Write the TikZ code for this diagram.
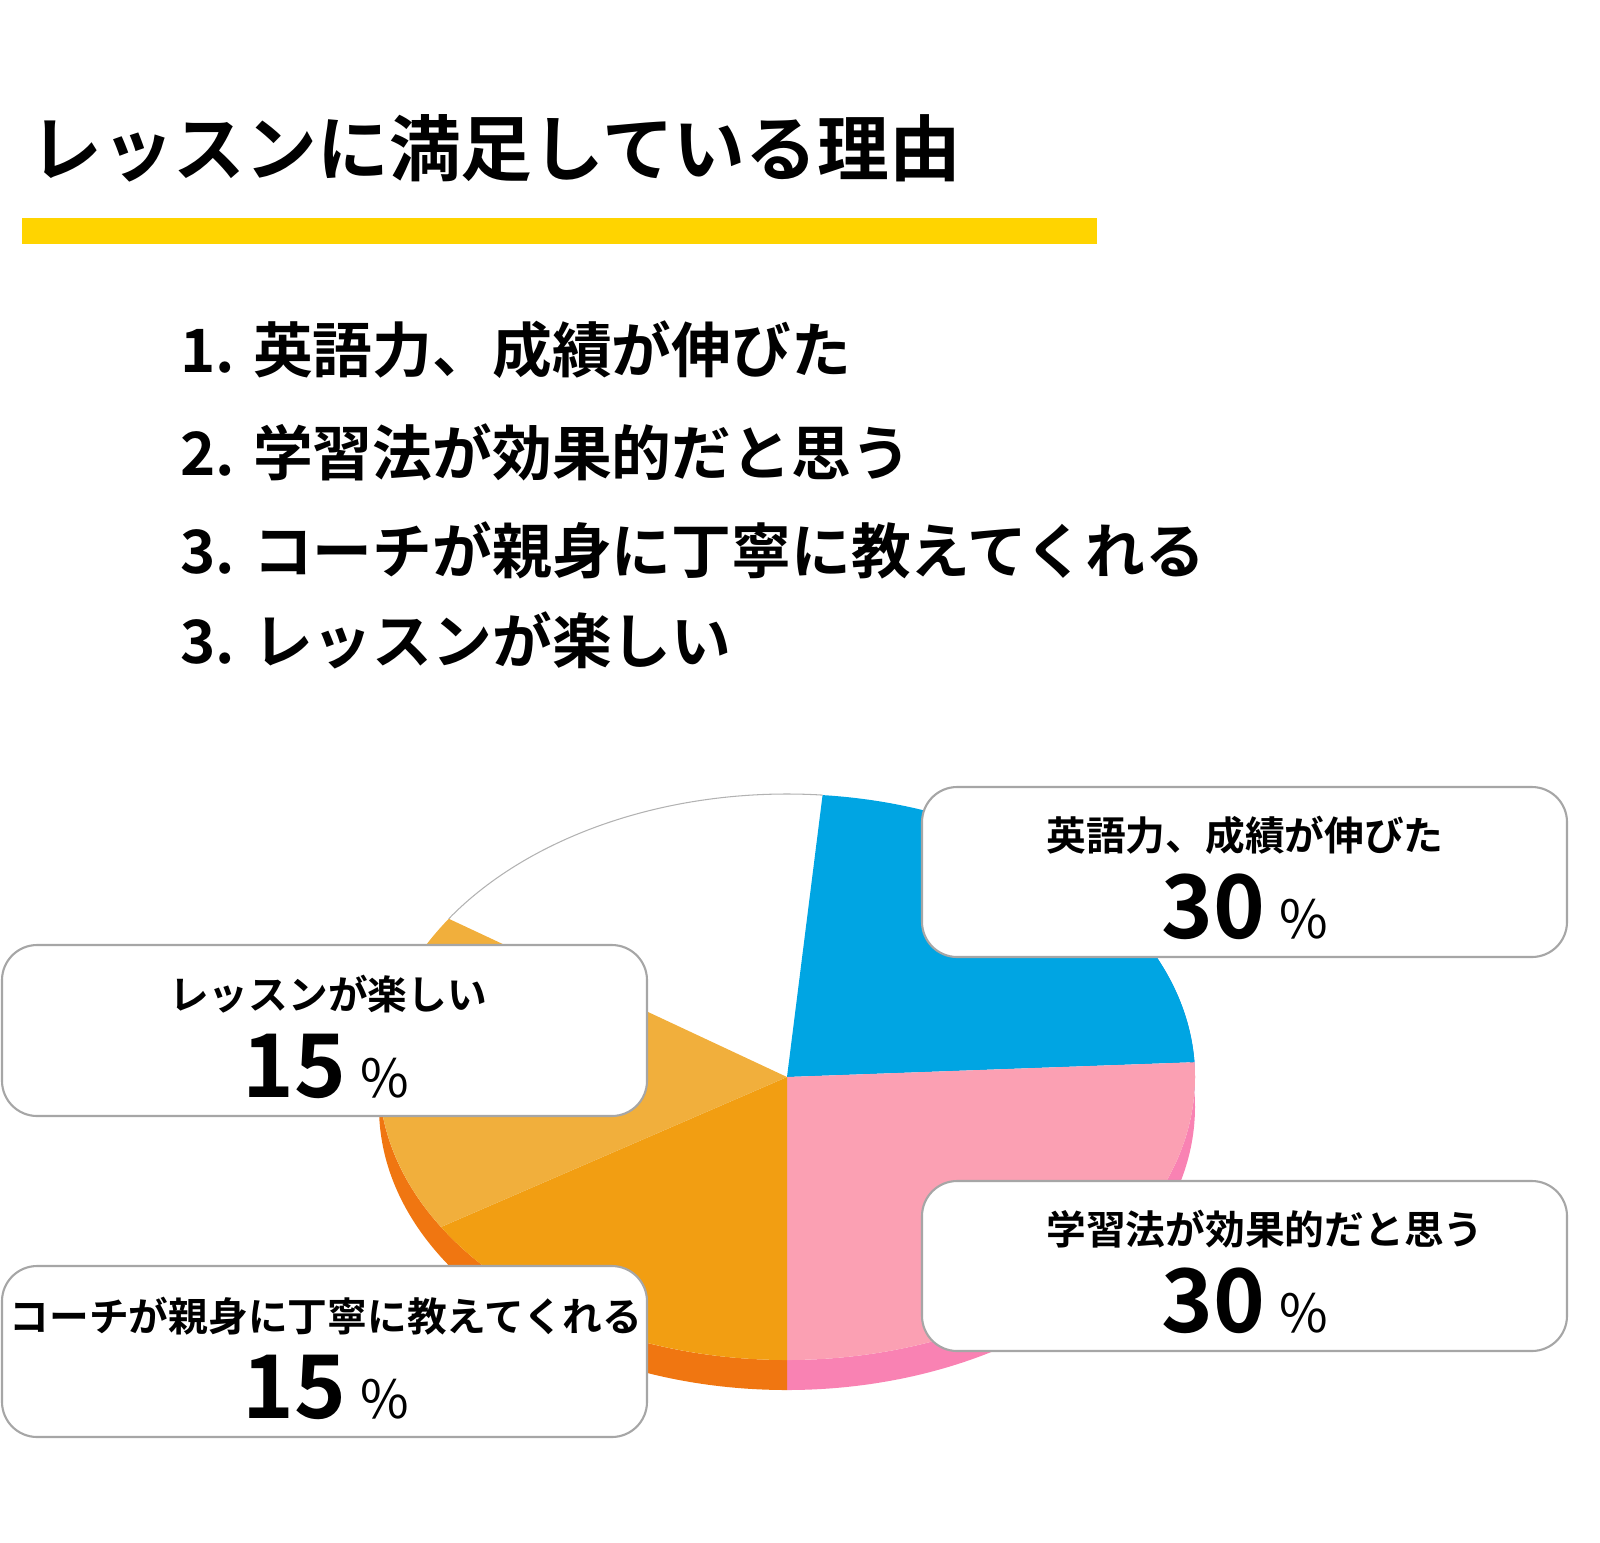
\documentclass[tikz,border=0pt]{standalone}
\usepackage{fontspec}
\setmainfont{Noto Sans CJK JP}
\newfontfamily\jpbold{Noto Sans CJK JP Bold}
\usetikzlibrary{positioning,calc}
\definecolor{pieblue}{HTML}{00A5E3}
\definecolor{pieblueside}{HTML}{0A78D8}
\definecolor{piepink}{HTML}{FBA0B3}
\definecolor{piepinkside}{HTML}{F982B3}
\definecolor{pieorange}{HTML}{F29E12}
\definecolor{pielight}{HTML}{F1AF3C}
\definecolor{pieside}{HTML}{F07611}
\definecolor{baryellow}{HTML}{FFD400}
\newcommand\pct{\,{\rmfamily\fontsize{15}{18}\selectfont\%}}
\begin{document}
\begin{tikzpicture}[x=0.01cm,y=-0.01cm,
  labelbox/.style={draw=gray!70,fill=white,rounded corners=10pt,line width=0.6pt},
  listline/.style={anchor=west,font=\jpbold\fontsize{17}{20}\selectfont},
  boxlabel/.style={font=\jpbold\fontsize{11.3}{13}\selectfont},
  boxvalue/.style={font=\jpbold\fontsize{25}{28}\selectfont},
  ell/.style={x radius=408,y radius=283}]
\useasboundingbox (0,0) rectangle (1600,1542);
% title
\node[anchor=west,font=\jpbold\fontsize{20.4}{24}\selectfont] (title) at (18,148) {レッスンに満足している理由};
\fill[baryellow] (22,218) rectangle (1097,244);
% list
\node[listline] (l1) at (168,350) {1. 英語力、成績が伸びた};
\node[listline] (l2) at (168,452) {2. 学習法が効果的だと思う};
\node[listline] (l3) at (168,550) {3. コーチが親身に丁寧に教えてくれる};
\node[listline] (l4) at (168,640) {3. レッスンが楽しい};
% pie
\begin{scope}[shift={(787,1077)},y=0.01cm]
\coordinate (c) at (0,0);
\coordinate (cb) at (0,-30);
% sides
\fill[pieblueside] ($(cb)+(3:408 and 283)$) arc[start angle=3,end angle=25,ell] -- ($(c)+(25:408 and 283)$) arc[start angle=25,end angle=3,ell] -- cycle;
\fill[piepinkside] ($(cb)+(-90:408 and 283)$) arc[start angle=-90,end angle=3,ell] -- ($(c)+(3:408 and 283)$) arc[start angle=3,end angle=-90,ell] -- cycle;
\fill[pieside] ($(cb)+(180:408 and 283)$) arc[start angle=180,end angle=270,ell] -- ($(c)+(270:408 and 283)$) arc[start angle=270,end angle=180,ell] -- cycle;
% top face
\fill[pieblue] (c) -- ($(c)+(3:408 and 283)$) arc[start angle=3,end angle=85,ell] -- cycle;
\fill[piepink] (c) -- ($(c)+(-90:408 and 283)$) arc[start angle=-90,end angle=3,ell] -- cycle;
\fill[pieorange] (c) -- ($(c)+(212:408 and 283)$) arc[start angle=212,end angle=270,ell] -- cycle;
\fill[pielight] (c) -- ($(c)+(146:408 and 283)$) arc[start angle=146,end angle=212,ell] -- cycle;
\draw[gray!60,line width=0.3pt] ($(c)+(85:408 and 283)$) arc[start angle=85,end angle=146,ell];
\end{scope}
% boxes
\draw[labelbox] (922,787) rectangle (1567,957);
\node[boxlabel] (b1t) at (1245,835) {英語力、成績が伸びた};
\node[boxvalue] (b1v) at (1245,907) {30\pct};
\draw[labelbox] (922,1181) rectangle (1567,1351);
\node[boxlabel] (b2t) at (1265,1229) {学習法が効果的だと思う};
\node[boxvalue] (b2v) at (1245,1301) {30\pct};
\draw[labelbox] (2,945) rectangle (647,1116);
\node[boxlabel] (b3t) at (328,994) {レッスンが楽しい};
\node[boxvalue] (b3v) at (326,1066) {15\pct};
\draw[labelbox] (2,1266) rectangle (647,1437);
\node[boxlabel] (b4t) at (326,1316) {コーチが親身に丁寧に教えてくれる};
\node[boxvalue] (b4v) at (326,1387) {15\pct};
\end{tikzpicture}
\end{document}
